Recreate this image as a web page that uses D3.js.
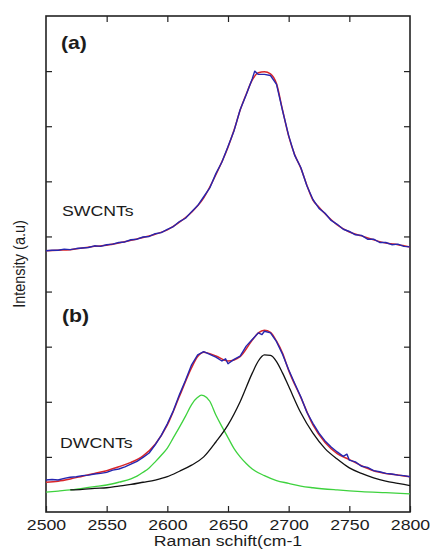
<!DOCTYPE html>
<html>
<head>
<meta charset="utf-8">
<script src="https://cdn.jsdelivr.net/npm/d3@7"></script>
<style>
  body { margin: 0; background: #fff; }
  svg { display: block; }
</style>
</head>
<body>
<script>
// Raman G' band of single- and double-walled carbon nanotubes
const xTicks = [2500, 2550, 2600, 2650, 2700, 2750, 2800];
const yTicks = [1, 2, 3, 4, 5, 6, 7, 8];

// (a) SWCNTs: measured spectrum and its fit, [wavenumber, intensity]
const swMeasured = [
  [2500,4.74],[2505,4.75],[2510,4.75],[2515,4.77],[2520,4.76],[2525,4.78],[2530,4.79],[2535,4.80],
  [2540,4.83],[2545,4.82],[2550,4.85],[2555,4.86],[2560,4.89],[2565,4.90],[2570,4.94],[2575,4.95],
  [2580,4.99],[2585,5.00],[2590,5.05],[2595,5.07],[2600,5.13],[2605,5.18],[2610,5.27],[2615,5.33],
  [2620,5.45],[2625,5.56],[2630,5.72],[2635,5.88],[2640,6.14],[2645,6.35],[2650,6.63],[2655,6.92],
  [2660,7.30],[2665,7.57],[2670,7.86],[2672,8.00],[2675,7.94],[2680,7.94],[2685,7.92],[2690,7.76],
  [2695,7.28],[2700,6.83],[2705,6.47],[2710,6.25],[2715,5.92],[2720,5.67],[2725,5.51],[2730,5.42],
  [2735,5.29],[2740,5.22],[2745,5.13],[2750,5.09],[2755,5.03],[2760,5.02],[2765,4.95],[2770,4.95],
  [2775,4.89],[2780,4.89],[2785,4.85],[2790,4.86],[2795,4.82],[2800,4.81]
];
const swFit = [
  [2500,4.74],[2510,4.75],[2520,4.76],[2530,4.79],[2540,4.82],[2550,4.84],[2560,4.88],[2570,4.93],
  [2580,4.98],[2590,5.04],[2600,5.12],[2610,5.26],[2620,5.44],[2630,5.70],[2640,6.12],[2650,6.62],
  [2655,6.93],[2660,7.29],[2665,7.58],[2670,7.84],[2675,7.97],[2680,7.99],[2685,7.95],[2690,7.77],
  [2695,7.29],[2700,6.82],[2705,6.48],[2710,6.24],[2715,5.93],[2720,5.66],[2725,5.53],[2730,5.41],
  [2740,5.21],[2750,5.08],[2760,5.01],[2770,4.94],[2780,4.88],[2790,4.85],[2800,4.81]
];

// (b) DWCNTs: measured spectrum, total fit and the two fitted components
const dwMeasured = [
  [2500,0.58],[2505,0.59],[2510,0.58],[2515,0.61],[2520,0.63],[2525,0.64],[2530,0.66],[2535,0.67],
  [2540,0.69],[2545,0.70],[2550,0.72],[2555,0.76],[2560,0.78],[2565,0.82],[2570,0.87],[2575,0.92],
  [2580,0.99],[2585,1.07],[2590,1.22],[2595,1.39],[2600,1.60],[2605,1.84],[2610,2.13],[2615,2.39],
  [2620,2.67],[2625,2.85],[2630,2.91],[2635,2.86],[2640,2.81],[2645,2.74],[2648,2.78],[2650,2.69],
  [2655,2.77],[2660,2.83],[2665,3.01],[2670,3.13],[2675,3.25],[2678,3.22],[2680,3.28],[2685,3.25],
  [2690,3.09],[2695,2.86],[2700,2.58],[2705,2.33],[2710,2.09],[2715,1.81],[2720,1.61],[2725,1.43],
  [2730,1.29],[2735,1.18],[2740,1.09],[2745,1.01],[2748,1.05],[2750,0.94],[2755,0.91],[2760,0.83],
  [2765,0.81],[2770,0.75],[2775,0.73],[2780,0.70],[2785,0.69],[2790,0.67],[2795,0.66],[2800,0.64]
];
const dwFit = [
  [2500,0.54],[2510,0.56],[2520,0.60],[2530,0.65],[2540,0.70],[2550,0.75],[2560,0.82],[2570,0.90],
  [2580,1.02],[2590,1.23],[2600,1.58],[2610,2.10],[2620,2.62],[2625,2.82],[2630,2.90],[2640,2.83],
  [2650,2.74],[2660,2.82],[2670,3.12],[2675,3.25],[2680,3.30],[2685,3.26],[2690,3.10],[2695,2.88],
  [2700,2.57],[2710,2.08],[2720,1.58],[2730,1.26],[2740,1.06],[2750,0.95],[2760,0.84],[2770,0.75],
  [2780,0.70],[2790,0.67],[2800,0.64]
];
const dwLowBand = [
  [2500,0.36],[2510,0.38],[2520,0.40],[2530,0.43],[2540,0.46],[2550,0.49],[2560,0.54],[2570,0.60],
  [2575,0.65],[2580,0.72],[2585,0.80],[2590,0.91],[2595,1.03],[2600,1.16],[2605,1.35],[2610,1.54],
  [2615,1.74],[2620,1.95],[2625,2.08],[2628,2.12],[2630,2.11],[2635,2.01],[2640,1.76],[2645,1.55],
  [2650,1.35],[2655,1.15],[2660,1.00],[2665,0.88],[2670,0.78],[2680,0.66],[2690,0.57],[2700,0.52],
  [2710,0.47],[2720,0.44],[2740,0.40],[2760,0.37],[2780,0.35],[2800,0.33]
];
const dwHighBand = [
  [2520,0.40],[2530,0.41],[2540,0.43],[2550,0.44],[2560,0.47],[2570,0.50],[2580,0.54],[2590,0.58],
  [2600,0.64],[2610,0.74],[2620,0.85],[2630,1.00],[2640,1.27],[2650,1.58],[2660,2.00],[2670,2.52],
  [2675,2.74],[2680,2.85],[2685,2.84],[2690,2.73],[2695,2.52],[2700,2.28],[2710,1.80],[2720,1.43],
  [2730,1.15],[2740,0.96],[2750,0.80],[2760,0.70],[2770,0.62],[2780,0.56],[2790,0.52],[2800,0.48]
];

const W = 430, H = 551;
const plot = { left: 46, right: 410, top: 16, bottom: 512 };
const stretch = 1.18;           // wide lettering
const font = "'Liberation Sans', Arial, sans-serif";
const ink = "#1c1c1c";

const svg = d3.select("body").append("svg")
  .attr("width", W).attr("height", H)
  .attr("viewBox", `0 0 ${W} ${H}`);

const x = d3.scaleLinear().domain([2500, 2800]).range([plot.left, plot.right]);
const y = d3.scaleLinear().domain([0, 9]).range([plot.bottom, plot.top]);

// axes with inward ticks on all four sides
function styleAxis(g) {
  g.select(".domain").remove();
  g.selectAll(".tick line").attr("stroke", "#222").attr("stroke-width", 1.2);
}
svg.append("g").attr("transform", `translate(0,${plot.bottom})`)
  .call(d3.axisBottom(x).tickValues(xTicks).tickSizeInner(-6).tickSizeOuter(0).tickPadding(7).tickFormat(d3.format("d")))
  .call(styleAxis)
  .call(g => g.selectAll(".tick text")
    .attr("font-family", font).attr("font-size", 15).attr("fill", ink)
    .attr("transform", `scale(${stretch},1)`));
svg.append("g").attr("transform", `translate(0,${plot.top})`)
  .call(d3.axisTop(x).tickValues(xTicks.slice(1, -1)).tickSizeInner(-6).tickSizeOuter(0).tickFormat(""))
  .call(styleAxis);
svg.append("g").attr("transform", `translate(${plot.left},0)`)
  .call(d3.axisLeft(y).tickValues(yTicks).tickSizeInner(-6).tickSizeOuter(0).tickFormat(""))
  .call(styleAxis);
svg.append("g").attr("transform", `translate(${plot.right},0)`)
  .call(d3.axisRight(y).tickValues(yTicks).tickSizeInner(-6).tickSizeOuter(0).tickFormat(""))
  .call(styleAxis);

// frame
svg.append("rect")
  .attr("x", plot.left).attr("y", plot.top)
  .attr("width", plot.right - plot.left).attr("height", plot.bottom - plot.top)
  .attr("fill", "none").attr("stroke", "#222").attr("stroke-width", 1.6);

// spectra
const smooth = d3.line().x(d => x(d[0])).y(d => y(d[1])).curve(d3.curveMonotoneX);
const raw = d3.line().x(d => x(d[0])).y(d => y(d[1]));
const curves = [
  { data: dwLowBand,  line: smooth, color: "#3ed23e", w: 1.3 },
  { data: dwHighBand, line: smooth, color: "#111111", w: 1.3 },
  { data: swFit,      line: smooth, color: "#d8262a", w: 1.5 },
  { data: dwFit,      line: smooth, color: "#d8262a", w: 1.5 },
  { data: swMeasured, line: raw,    color: "#2626b0", w: 1.4 },
  { data: dwMeasured, line: raw,    color: "#2626b0", w: 1.4 }
];
svg.append("g").selectAll("path").data(curves).join("path")
  .attr("d", c => c.line(c.data))
  .attr("fill", "none")
  .attr("stroke", c => c.color)
  .attr("stroke-width", c => c.w)
  .attr("stroke-linejoin", "round");

// text labels
function label(px, py, str, opts = {}) {
  svg.append("text")
    .attr("transform", `translate(${px},${py}) scale(${stretch},1)` + (opts.rotate ? ` rotate(${opts.rotate})` : ""))
    .attr("text-anchor", opts.anchor || "start")
    .attr("font-family", font)
    .attr("font-size", opts.size || 15)
    .attr("font-weight", opts.weight || "normal")
    .attr("fill", ink)
    .text(str);
}
label(61, 49, "(a)", { size: 18, weight: "bold" });
label(62, 322, "(b)", { size: 18, weight: "bold" });
label(62, 216, "SWCNTs");
label(60, 448, "DWCNTs");
label((plot.left + plot.right) / 2, 546, "Raman schift(cm-1", { anchor: "middle" });
label(25, (plot.top + plot.bottom) / 2, "Intensity (a.u)", { anchor: "middle", rotate: -90, size: 14.5 });
</script>
</body>
</html>
